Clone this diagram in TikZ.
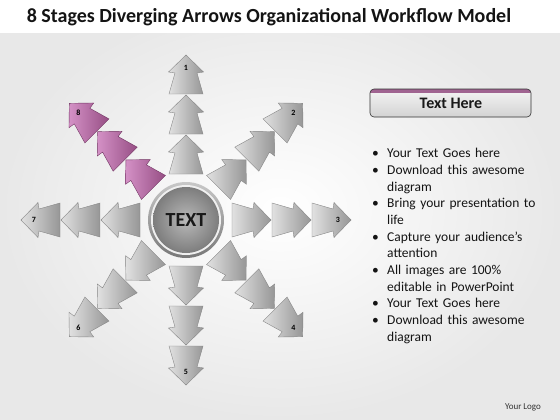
\documentclass[tikz,border=0pt]{standalone}
\usepackage{fontspec}
\setmainfont{Carlito}
\usetikzlibrary{calc}
\definecolor{segL}{RGB}{225,225,225}
\definecolor{segD}{RGB}{150,150,150}
\definecolor{segE}{RGB}{135,135,135}
\definecolor{pinkL}{RGB}{212,145,198}
\definecolor{pinkD}{RGB}{150,78,132}
\definecolor{pinkE}{RGB}{115,55,100}
\definecolor{bgOut}{RGB}{232,232,232}
\definecolor{ringD}{RGB}{120,120,120}
\definecolor{ringL}{RGB}{200,200,200}
\definecolor{ballL}{RGB}{185,185,185}
\definecolor{ballD}{RGB}{125,125,125}
\definecolor{stripe}{RGB}{160,100,145}
\newcommand\itm[1]{\par\noindent\makebox[15pt][l]{\textbullet}#1}
\newcommand\cont{\\\hspace*{15pt}}
\begin{document}
\begin{tikzpicture}[x=1pt,y=-1pt,
  seg/.style={draw=segE, line width=0.4pt, left color=segL, right color=segD},
  pseg/.style={draw=pinkE, line width=0.4pt, left color=pinkL, right color=pinkD},
  num/.style={font=\bfseries\fontsize{8}{8}\selectfont, text=black, inner sep=0pt}]
\useasboundingbox (0,0) rectangle (560,420);
\shade[inner color=white, outer color=bgOut] (0,0) rectangle (560,420);
\fill[white] (0,0) rectangle (560,33);
% title
\node[font=\bfseries\fontsize{20}{20}\selectfont, anchor=base, text={rgb,255:red,20;green,20;blue,20}] (title) at (269,23) {8 Stages Diverging Arrows Organizational Workflow Model};
% arrows
\foreach \k in {1,...,7} {
  \pgfmathsetmacro\ang{90-45*(\k-1)}
  \begin{scope}[shift={(186,220)}, rotate=\ang, x=1pt, y=1pt]
    \foreach \b in {46,86,126} {
      \path[seg] (\b,-17) -- (\b+21,-11) -- (\b+22,-17.5) -- (\b+39,0) -- (\b+22,17.5) -- (\b+21,11) -- (\b,17) -- cycle;
    }
  \end{scope}
  \node[num] (n\k) at ($(186,220)+(\ang:152pt)$) {\k};
}
\begin{scope}[shift={(186,220)}, rotate=135, x=1pt, y=1pt]
  \foreach \b in {46,86,126} {
    \path[pseg] (\b,-17) -- (\b+21,-11) -- (\b+22,-17.5) -- (\b+39,0) -- (\b+22,17.5) -- (\b+21,11) -- (\b,17) -- cycle;
  }
\end{scope}
\node[num] (n8) at ($(186,220)+(135:152pt)$) {8};
% centre
\shade[top color=ringL, bottom color=ringD] (186,220) circle[radius=38pt];
\fill[gray!12] (186,220) circle[radius=35pt];
\shade[inner color=ballL, outer color=ballD] (186,220) circle[radius=33pt];
\node[font=\bfseries\fontsize{20}{20}\selectfont, text={rgb,255:red,25;green,25;blue,25}] (ctext) at (186,220) {TEXT};
% text here box
\begin{scope}
  \clip[rounded corners=4pt] (370,89) rectangle (531,117);
  \shade[top color=gray!8, bottom color=gray!35] (370,89) rectangle (531,117);
  \fill[stripe] (370,89) rectangle (531,93);
\end{scope}
\draw[rounded corners=4pt, draw=gray!40!black, line width=0.6pt] (370,89) rectangle (531,117);
\node[font=\bfseries\fontsize{16}{16}\selectfont, text={rgb,255:red,25;green,25;blue,25}] (th) at (451,103) {Text Here};
% bullets
\node[anchor=base west, inner sep=0pt, text width=180pt, align=left, font=\fontsize{13.5}{16.7}\selectfont, text={rgb,255:red,20;green,20;blue,20}] (list) at (372,141) {%
\itm{Your Text Goes here}%
\itm{Download this awesome\cont diagram}%
\itm{Bring your presentation to\cont life}%
\itm{Capture your audience’s\cont attention}%
\itm{All images are 100\%\cont editable in PowerPoint}%
\itm{Your Text Goes here}%
\itm{Download this awesome\cont diagram}};
% logo
\node[font=\fontsize{9}{9}\selectfont, text={rgb,255:red,50;green,50;blue,50}] (logo) at (523,407) {Your Logo};
\end{tikzpicture}
\end{document}
